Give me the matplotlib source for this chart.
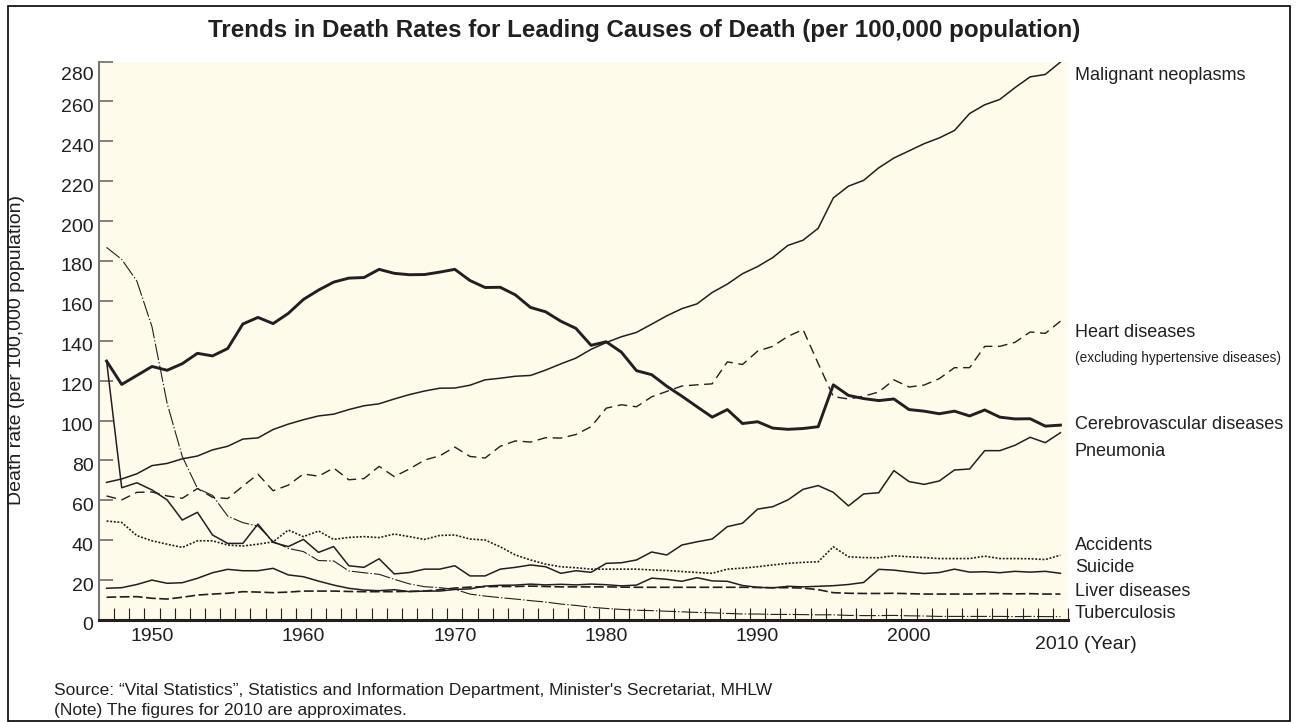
#!/usr/bin/env python3
import numpy as np
import matplotlib
matplotlib.use("Agg")
import matplotlib.pyplot as plt
import matplotlib.transforms as mtransforms
from matplotlib.patches import Rectangle

# ======================= DATA =======================
YEARS = list(range(1947, 2011))

MALIGNANT = [69.0, 70.7, 73.3, 77.4, 78.5, 80.8, 82.2, 85.3, 87.1, 90.7,
             91.3, 95.5, 98.2, 100.4, 102.3, 103.2, 105.5, 107.4, 108.4, 110.8,
             113.0, 114.8, 116.2, 116.3, 117.7, 120.4, 121.2, 122.2, 122.6, 125.3,
             128.4, 131.3, 135.7, 139.1, 142.0, 144.2, 148.3, 152.5, 156.1, 158.5,
             164.2, 168.4, 173.6, 177.2, 181.7, 187.8, 190.4, 196.4, 211.6, 217.5,
             220.4, 226.7, 231.6, 235.2, 238.8, 241.7, 245.4, 253.9, 258.3, 261.0,
             266.9, 272.3, 273.5, 279.7]

HEART = [62.2, 60.2, 64.0, 64.2, 62.2, 61.0, 65.9, 61.5, 60.9, 67.1,
         73.1, 64.8, 67.6, 73.2, 72.1, 76.2, 70.3, 70.9, 77.0, 71.9,
         75.7, 80.2, 82.3, 86.7, 82.0, 81.2, 87.1, 89.8, 89.2, 91.4,
         91.2, 93.0, 96.9, 106.2, 107.9, 106.9, 111.9, 114.6, 117.3, 117.9,
         118.4, 129.4, 128.1, 134.8, 137.2, 142.2, 145.6, 128.6, 112.0, 110.8,
         112.2, 114.3, 120.4, 116.8, 117.8, 121.0, 126.5, 126.5, 137.2, 137.2,
         139.2, 144.4, 143.7, 149.8]

CEREBRO = [129.8, 118.1, 122.6, 127.1, 125.2, 128.5, 133.7, 132.4, 136.1, 148.4,
           151.7, 148.6, 153.7, 160.7, 165.4, 169.4, 171.4, 171.7, 175.8, 173.8,
           173.1, 173.2, 174.4, 175.8, 170.2, 166.7, 166.8, 163.0, 156.7, 154.5,
           149.8, 146.2, 137.7, 139.5, 134.3, 125.0, 123.0, 117.2, 112.2, 106.9,
           101.7, 105.5, 98.5, 99.4, 96.2, 95.6, 96.0, 96.9, 117.9, 112.6,
           111.0, 110.0, 110.8, 105.5, 104.7, 103.4, 104.7, 102.3, 105.3, 101.7,
           100.8, 100.9, 97.2, 97.7]

PNEUMONIA = [129.8, 66.3, 68.8, 65.2, 60.2, 50.1, 54.0, 42.6, 38.4, 38.4,
             48.1, 38.9, 36.8, 40.4, 33.9, 36.8, 27.2, 26.4, 30.7, 23.1,
             23.8, 25.5, 25.5, 27.2, 22.1, 22.1, 25.5, 26.4, 27.6, 26.7,
             23.4, 24.7, 23.9, 28.4, 28.7, 30.1, 34.1, 32.6, 37.6, 39.2,
             40.6, 46.8, 48.5, 55.6, 56.8, 60.2, 65.5, 67.4, 64.0, 57.2,
             63.2, 63.8, 74.9, 69.4, 68.0, 69.7, 75.2, 75.7, 84.9, 84.9,
             87.6, 91.6, 88.9, 93.9]

ACCIDENTS = [49.6, 48.9, 42.3, 39.7, 38.0, 36.4, 39.7, 39.7, 37.6, 37.1,
             38.0, 39.2, 45.1, 41.8, 44.6, 40.4, 41.4, 41.8, 41.3, 43.1,
             41.8, 40.4, 42.4, 42.6, 40.6, 40.1, 36.7, 32.6, 30.1, 28.0,
             26.7, 26.2, 25.5, 25.5, 25.5, 25.5, 25.1, 24.8, 24.3, 23.8,
             23.4, 25.5, 26.0, 26.7, 27.6, 28.4, 28.9, 29.2, 36.7, 31.7,
             31.3, 31.2, 32.2, 31.7, 31.3, 30.8, 30.8, 30.8, 32.0, 30.8,
             30.8, 30.7, 30.3, 32.5]

SUICIDE = [15.9, 16.2, 17.8, 20.0, 18.4, 18.7, 20.9, 23.7, 25.4, 24.7,
           24.7, 25.9, 22.6, 21.7, 19.5, 17.5, 15.9, 15.0, 14.7, 15.2,
           14.2, 14.5, 14.5, 15.3, 15.6, 17.0, 17.4, 17.5, 18.0, 17.6,
           17.9, 17.6, 18.0, 17.7, 17.1, 17.5, 21.0, 20.4, 19.4, 21.2,
           19.6, 19.4, 17.3, 16.4, 16.1, 16.9, 16.6, 16.9, 17.2, 17.8,
           18.8, 25.4, 25.0, 24.1, 23.3, 23.8, 25.5, 24.0, 24.2, 23.7,
           24.4, 24.0, 24.4, 23.4]

LIVER = [11.4, 11.6, 11.7, 10.9, 10.5, 11.4, 12.5, 13.0, 13.4, 14.2,
         14.0, 13.7, 14.0, 14.5, 14.5, 14.5, 14.3, 14.2, 14.2, 14.2,
         14.4, 14.5, 15.2, 16.0, 16.5, 16.7, 16.8, 16.8, 17.0, 16.8,
         16.6, 16.6, 16.6, 16.6, 16.5, 16.4, 16.4, 16.4, 16.4, 16.4,
         16.4, 16.4, 16.4, 16.3, 16.2, 16.2, 16.0, 15.2, 13.7, 13.4,
         13.3, 13.3, 13.4, 13.2, 13.0, 13.0, 13.0, 13.0, 13.2, 13.2,
         13.1, 13.2, 13.0, 13.0]

TUBERCULOSIS = [186.8, 180.8, 169.9, 147.0, 108.6, 82.0, 66.0, 62.4, 52.1, 48.8,
                47.1, 39.4, 35.9, 34.3, 29.8, 29.6, 24.6, 23.7, 22.9, 20.4,
                18.1, 16.7, 16.2, 15.4, 13.0, 12.0, 11.2, 10.5, 9.7, 9.0,
                8.0, 7.3, 6.4, 5.8, 5.3, 4.9, 4.7, 4.4, 4.1, 3.8,
                3.6, 3.3, 3.0, 3.0, 2.8, 2.8, 2.7, 2.6, 2.6, 2.3,
                2.2, 2.2, 2.3, 2.1, 2.0, 1.8, 1.8, 1.8, 1.8, 1.8,
                1.7, 1.8, 1.7, 1.7]

DECADES = [1950, 1960, 1970, 1980, 1990, 2000]
Y_TICKS = list(range(0, 281, 20))

TITLE = "Trends in Death Rates for Leading Causes of Death (per 100,000 population)"
YLABEL = "Death rate (per 100,000 population)"
SOURCE = "Source: \u201cVital Statistics\u201d, Statistics and Information Department, Minister's Secretariat, MHLW"
NOTE = "(Note) The figures for 2010 are approximates."
# ======================================================

INK = "#231f20"
BG = "#fffbea"
W, H = 1299, 722

plt.rcParams["font.family"] = ["Liberation Sans", "DejaVu Sans"]
plt.rcParams["lines.scale_dashes"] = False

fig = plt.figure(figsize=(W / 100, H / 100), dpi=100)
fig.patch.set_facecolor("white")

# pixel box of the plot area: x 99..1068, y 61.5..620
ax = fig.add_axes([99 / W, 1 - 620 / H, (1068 - 99) / W, (620 - 61.5) / H])
ax.set_facecolor(BG)

ax.plot(YEARS, TUBERCULOSIS, color=INK, lw=0.8, dashes=(12, 1.5, 1, 1.5))
ax.plot(YEARS, LIVER, color=INK, lw=1.2, dashes=(7, 2.5))
ax.plot(YEARS, SUICIDE, color=INK, lw=1.1)
ax.plot(YEARS, ACCIDENTS, color=INK, lw=1.2, dashes=(1.4, 1.2))
ax.plot(YEARS, PNEUMONIA, color=INK, lw=1.1)
ax.plot(YEARS, HEART, color=INK, lw=1.0, dashes=(7, 4))
ax.plot(YEARS, MALIGNANT, color=INK, lw=1.1)
ax.plot(YEARS, CEREBRO, color=INK, lw=2.1)

ax.set_xlim(1946.5, 2010.5)
ax.set_ylim(0, 280)

for side in ("top", "right"):
    ax.spines[side].set_visible(False)
ax.spines["left"].set_color("#777777")
ax.spines["left"].set_linewidth(1.5)
ax.spines["bottom"].set_color(INK)
ax.spines["bottom"].set_linewidth(2.2)

ax.set_yticks(Y_TICKS)
ax.tick_params(axis="y", direction="in", length=10, width=1.3, color="#777777",
               labelsize=14, labelcolor=INK, pad=4)
off = mtransforms.ScaledTranslation(0, -4 / 100, fig.dpi_scale_trans)
off_top = mtransforms.ScaledTranslation(0, -12 / 100, fig.dpi_scale_trans)
ylabs = ax.get_yticklabels()
for lab in ylabs[:-1]:
    lab.set_transform(lab.get_transform() + off)
ylabs[-1].set_transform(ylabs[-1].get_transform() + off_top)

ax.set_xticks(DECADES)
ax.set_xticklabels([str(d) for d in DECADES])
ax.set_xticks(np.arange(1947.5, 2010.6, 1.0), minor=True)
ax.tick_params(axis="x", which="major", length=0, labelsize=14, labelcolor=INK, pad=6)
ax.tick_params(axis="x", which="minor", direction="in", length=9, width=0.8, color=INK)

ax.text(2008.3, -0.028, "2010 (Year)", transform=ax.get_xaxis_transform(),
        ha="left", va="top", fontsize=14, color=INK)

fig.text(17 / W, 1 - 350 / H, YLABEL, rotation=90, ha="center", va="center",
         fontsize=14, color=INK)

fig.text(644 / W, 1 - 30 / H, TITLE, ha="center", va="center", fontsize=17.4,
         fontweight="bold", color=INK)

# series labels on the right
RIGHT_LABELS = [("Malignant neoplasms", 75), ("Heart diseases", 333),
                ("Cerebrovascular diseases", 424), ("Pneumonia", 452),
                ("Accidents", 545), ("Suicide", 568), ("Liver diseases", 591),
                ("Tuberculosis", 614)]
for txt, ypx in RIGHT_LABELS:
    fig.text(1075 / W, 1 - ypx / H, txt, ha="left", va="center", fontsize=13, color=INK)
fig.text(1075 / W, 1 - 358 / H, "(excluding hypertensive diseases)", ha="left", va="center",
         fontsize=9.8, color=INK)

fig.text(54 / W, 1 - 691 / H, SOURCE, ha="left", va="center", fontsize=12.5, color=INK)
fig.text(54 / W, 1 - 711 / H, NOTE, ha="left", va="center", fontsize=12.5, color=INK)

# frame around the figure
fig.patches.append(Rectangle((8 / W, 1 / H), (1290 - 8) / W, (716 - 1) / H,
                             transform=fig.transFigure, fill=False, edgecolor="black", lw=1.2))

fig.savefig("out.png", dpi=100)
